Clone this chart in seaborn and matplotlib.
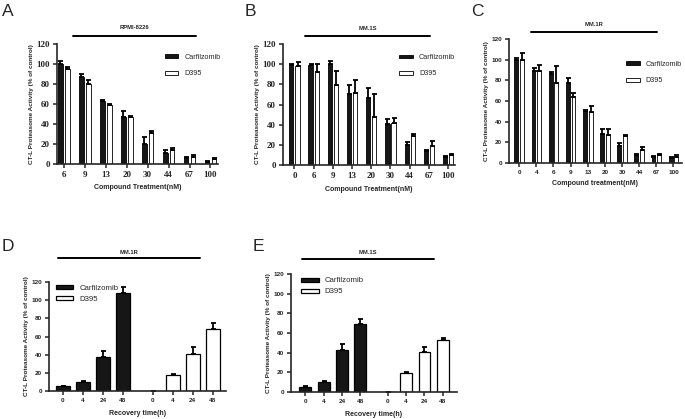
import matplotlib.pyplot as plt
import numpy as np
import pandas as pd
import seaborn as sns

# data
drugs = ["Carfilzomib", "D395"]

# A - RPMI-8226
doses_a = ["6", "9", "13", "20", "30", "44", "67", "100"]
carf_a = [100, 87, 63, 47, 20, 11, 6, 2]
carf_a_err = [3, 3, 1, 6, 7, 3, 1, 1]
d395_a = [95, 80, 59, 47, 31, 14, 7, 5]
d395_a_err = [2, 4, 1, 1, 2, 2, 2, 1]

# B - MM.1S
doses_b = ["0", "6", "9", "13", "20", "30", "44", "67", "100"]
carf_b = [99, 99, 100, 70, 66, 41, 20, 14, 8]
carf_b_err = [1, 1, 3, 9, 10, 5, 3, 1, 1]
d395_b = [98, 92, 79, 71, 48, 42, 29, 19, 10]
d395_b_err = [4, 8, 14, 13, 22, 5, 2, 5, 0.5]

# C - MM.1R
doses_c = ["0", "4", "6", "9", "13", "20", "30", "44", "67", "100"]
carf_c = [100, 89, 86, 77, 50, 28, 16, 8, 6, 5]
carf_c_err = [2, 3, 2, 5, 1, 5, 3, 0.3, 1, 1]
d395_c = [100, 89, 77, 64, 49, 27, 26, 13, 8, 6]
d395_c_err = [6, 6, 17, 4, 6, 6, 1, 2, 1, 2]

# D / E - recovery
hours = ["0", "4", "24", "48"]
carf_d = [5, 10, 37, 108]
carf_d_err = [1, 1, 7, 7]
d395_d = [0.5, 18, 41, 68]
d395_d_err = [0, 1, 7, 7]

carf_e = [5, 10, 43, 69]
carf_e_err = [1, 1, 6, 5]
d395_e = [0.5, 19, 41, 53]
d395_e_err = [0, 1, 5, 2]

colors = ["#161616", "white"]
ylab = "CT-L Proteasome Activity (% of control)"

sns.set_style("ticks")
plt.rcParams["font.family"] = ["Liberation Sans", "DejaVu Sans"]

fig = plt.figure(figsize=(6.85, 4.19), dpi=100)


def add_errors(ax, errs):
    bars = list(ax.containers[:2])
    for cont, err in zip(bars, errs):
        xs = [b.get_x() + b.get_width() / 2 for b in cont]
        hs = [b.get_height() for b in cont]
        ax.errorbar(xs, hs, yerr=[np.zeros(len(err)), err], fmt="none",
                    ecolor="black", elinewidth=1.3, capsize=1.8, capthick=1.3)


def style_axes(ax, tick_family, tick_size):
    sns.despine(ax=ax)
    for s in ["left", "bottom"]:
        ax.spines[s].set_linewidth(1.2)
    ax.set_ylim(0, 120)
    ax.set_yticks(range(0, 121, 20))
    ax.tick_params(length=3, width=1.1, pad=2)
    for lab in ax.get_xticklabels() + ax.get_yticklabels():
        lab.set_family(tick_family)
        lab.set_fontweight("bold")
        lab.set_fontsize(tick_size)


def title_bar(ax, x0, x1, y, ty, title):
    ax.plot([x0, x1], [y, y], transform=ax.transAxes, clip_on=False,
            color="black", lw=1.4)
    ax.text((x0 + x1) / 2, ty, title, transform=ax.transAxes, ha="center",
            va="center", fontsize=4.2, fontweight="bold")


def dose_panel(rect, doses, carf, carf_err, d395, d395_err, title, xlabel,
               xlim, width, gap, tick_family, tick_size, bar, leg_xy):
    ax = fig.add_axes(rect)
    n = len(doses)
    df = pd.DataFrame({"dose": doses * 2, "value": carf + d395,
                       "drug": [drugs[0]] * n + [drugs[1]] * n})
    sns.barplot(data=df, x="dose", y="value", hue="drug", order=doses,
                hue_order=drugs, palette=colors, saturation=1,
                edgecolor="black", linewidth=0.6, width=width, gap=gap,
                errorbar=None, ax=ax)
    add_errors(ax, [carf_err, d395_err])
    ax.set_xlim(*xlim)
    style_axes(ax, tick_family, tick_size)
    ax.set_xlabel(xlabel, fontsize=5, fontweight="bold", labelpad=4)
    ax.set_ylabel(ylab, fontsize=4.6, fontweight="bold", labelpad=2)
    title_bar(ax, *bar, title)
    sns.move_legend(ax, "center left", bbox_to_anchor=leg_xy, frameon=False,
                    title=None, fontsize=5.2, handlelength=1.9,
                    handleheight=0.45, labelspacing=1.3, handletextpad=0.8)
    return ax


def recovery_panel(rect, carf, carf_err, d395, d395_err, title, xlim, width,
                   bar, leg_xy):
    ax = fig.add_axes(rect)
    pos = np.r_[np.arange(4), np.arange(4) + 4.5]
    df = pd.DataFrame({"pos": pos, "value": carf + d395,
                       "drug": [drugs[0]] * 4 + [drugs[1]] * 4})
    sns.barplot(data=df, x="pos", y="value", hue="drug", hue_order=drugs,
                palette=colors, saturation=1, native_scale=True, dodge=False,
                edgecolor="black", linewidth=0.9, width=width,
                errorbar=None, ax=ax)
    add_errors(ax, [carf_err, d395_err])
    ax.set_xticks(pos, hours * 2)
    ax.set_xlim(*xlim)
    style_axes(ax, "Liberation Sans", 4.6)
    ax.set_xlabel("Recovery time(h)", fontsize=5, fontweight="bold",
                  labelpad=5)
    ax.set_ylabel(ylab, fontsize=4.6, fontweight="bold", labelpad=2)
    title_bar(ax, *bar, title)
    sns.move_legend(ax, "upper left", bbox_to_anchor=leg_xy, frameon=False,
                    title=None, fontsize=5.6, handlelength=2.2,
                    handleheight=0.45, labelspacing=0.5, handletextpad=0.8)
    return ax


dose_panel([0.083, 0.609, 0.235, 0.286], doses_a, carf_a, carf_a_err,
           d395_a, d395_a_err, "RPMI-8226", "Compound Treatment(nM)",
           (-0.33, 7.35), 0.66, 0.3, "Liberation Serif", 6.5,
           (0.10, 0.863, 1.067, 1.135), (0.63, 0.82))
dose_panel([0.413, 0.606, 0.251, 0.289], doses_b, carf_b, carf_b_err,
           d395_b, d395_b_err, "MM.1S", "Compound Treatment(nM)",
           (-0.6, 8.35), 0.64, 0.32, "Liberation Serif", 6.5,
           (0.128, 0.855, 1.066, 1.13), (0.64, 0.82))
dose_panel([0.743, 0.611, 0.2526, 0.296], doses_c, carf_c, carf_c_err,
           d395_c, d395_c_err, "MM.1R", "Compound treatment(nM)",
           (-0.6, 9.5), 0.66, 0.32, "Liberation Sans", 4.6,
           (0.127, 0.855, 1.056, 1.12), (0.64, 0.73))
recovery_panel([0.0715, 0.0668, 0.258, 0.260], carf_d, carf_d_err, d395_d,
               d395_d_err, "MM.1R", (-0.7, 8.15), 0.68,
               (0.05, 0.853, 1.22, 1.275), (0.0, 1.04))
recovery_panel([0.425, 0.0644, 0.242, 0.2816], carf_e, carf_e_err, d395_e,
               d395_e_err, "MM.1S", (-0.78, 8.27), 0.65,
               (0.066, 0.86, 1.127, 1.186), (0.02, 1.03))

for lab, x, y in [("A", 2, 4), ("B", 245, 4), ("C", 471, 4),
                  ("D", 2, 239), ("E", 253, 239)]:
    fig.text(x / 685, 1 - y / 419, lab, fontsize=12.5, va="top", ha="left")

fig.savefig("out.png", dpi=100)
